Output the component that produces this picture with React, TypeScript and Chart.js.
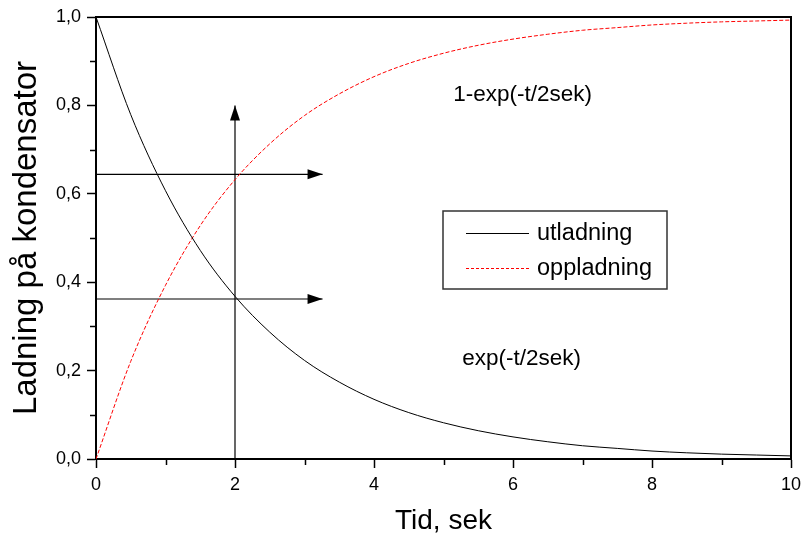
import React, { useEffect, useRef } from 'react';
import { Chart, registerables } from 'chart.js';

Chart.register(...registerables);

// Time axis (seconds) at which the curves were read
const timeValues = [0, 0.5, 1, 1.5, 2, 2.5, 3, 3.5, 4, 4.5, 5, 5.5, 6, 6.5, 7, 7.5, 8, 8.5, 9, 9.5, 10];
// Discharge curve (utladning)
const utladning = [1.0, 0.779, 0.607, 0.472, 0.368, 0.287, 0.223, 0.174, 0.135, 0.105, 0.082, 0.064, 0.05, 0.039, 0.03, 0.024, 0.018, 0.014, 0.011, 0.009, 0.007];
// Charge curve (oppladning)
const oppladning = [0.0, 0.221, 0.393, 0.528, 0.632, 0.713, 0.777, 0.826, 0.865, 0.895, 0.918, 0.936, 0.95, 0.961, 0.97, 0.976, 0.982, 0.986, 0.989, 0.991, 0.993];

const seriesLabels = ['utladning', 'oppladning'];

// Arrows (data coordinates: start -> tip)
const arrowVerticalX = [2, 2];
const arrowVerticalY = [0, 0.8];
const arrowUpperX = [0, 3.26];
const arrowUpperY = [0.644, 0.644];
const arrowLowerX = [0, 3.26];
const arrowLowerY = [0.362, 0.362];

// Annotations
const annotationTexts = ['1-exp(-t/2sek)', 'exp(-t/2sek)'];
const annotationX = [5.14, 5.27];
const annotationY = [0.811, 0.213];

// Ticks
const xTickLabels = ['0', '2', '4', '6', '8', '10'];
const yTickLabels = ['0,0', '0,2', '0,4', '0,6', '0,8', '1,0'];
const xMinorTicks = [1, 3, 5, 7, 9];
const yMinorTicks = [0.1, 0.3, 0.5, 0.7, 0.9];

const FONT = "'Liberation Sans', Arial, sans-serif";

const toPoints = (xs: number[], ys: number[]) => xs.map((x, i) => ({ x, y: ys[i] }));

const overlayPlugin = {
  id: 'overlay',
  afterDatasetsDraw(chart: any) {
    const { ctx, chartArea, scales } = chart;
    const xs = scales.x;
    const ys = scales.y;
    ctx.save();

    // frame top/right
    ctx.strokeStyle = '#000';
    ctx.lineWidth = 2;
    ctx.beginPath();
    ctx.moveTo(chartArea.left, chartArea.top);
    ctx.lineTo(chartArea.right, chartArea.top);
    ctx.lineTo(chartArea.right, chartArea.bottom);
    ctx.stroke();

    // minor ticks
    ctx.lineWidth = 1.5;
    ctx.beginPath();
    xMinorTicks.forEach((v) => {
      const px = Math.round(xs.getPixelForValue(v)) + 0.5;
      ctx.moveTo(px, chartArea.bottom);
      ctx.lineTo(px, chartArea.bottom + 6);
    });
    yMinorTicks.forEach((v) => {
      const py = Math.round(ys.getPixelForValue(v)) + 0.5;
      ctx.moveTo(chartArea.left, py);
      ctx.lineTo(chartArea.left - 6, py);
    });
    ctx.stroke();

    // arrowheads
    const head = (x0: number, y0: number, x1: number, y1: number) => {
      const ax = xs.getPixelForValue(x0);
      const ay = ys.getPixelForValue(y0);
      const bx = xs.getPixelForValue(x1);
      const by = ys.getPixelForValue(y1);
      const ang = Math.atan2(by - ay, bx - ax);
      const L = 15;
      const W = 5;
      ctx.fillStyle = '#000';
      ctx.beginPath();
      ctx.moveTo(bx, by);
      ctx.lineTo(bx - L * Math.cos(ang) + W * Math.sin(ang), by - L * Math.sin(ang) - W * Math.cos(ang));
      ctx.lineTo(bx - L * Math.cos(ang) - W * Math.sin(ang), by - L * Math.sin(ang) + W * Math.cos(ang));
      ctx.closePath();
      ctx.fill();
    };
    head(arrowVerticalX[0], arrowVerticalY[0], arrowVerticalX[1], arrowVerticalY[1]);
    head(arrowUpperX[0], arrowUpperY[0], arrowUpperX[1], arrowUpperY[1]);
    head(arrowLowerX[0], arrowLowerY[0], arrowLowerX[1], arrowLowerY[1]);

    // annotations
    ctx.fillStyle = '#000';
    ctx.font = `22.5px ${FONT}`;
    ctx.textAlign = 'left';
    ctx.textBaseline = 'alphabetic';
    annotationTexts.forEach((t, i) => {
      ctx.fillText(t, xs.getPixelForValue(annotationX[i]), ys.getPixelForValue(annotationY[i]));
    });

    // legend box
    const bx = chartArea.left + 347;
    const by = chartArea.top + 194;
    const bw = 224;
    const bh = 78;
    ctx.strokeStyle = '#333';
    ctx.lineWidth = 1.5;
    ctx.strokeRect(bx, by, bw, bh);
    const rows = [
      { y: by + 22, color: '#000', dash: [] as number[] },
      { y: by + 57, color: '#ff0000', dash: [3, 2] },
    ];
    rows.forEach((r, i) => {
      ctx.strokeStyle = r.color;
      ctx.lineWidth = 1;
      ctx.setLineDash(r.dash);
      ctx.beginPath();
      ctx.moveTo(bx + 23, r.y + 0.5);
      ctx.lineTo(bx + 86, r.y + 0.5);
      ctx.stroke();
      ctx.setLineDash([]);
      ctx.fillStyle = '#000';
      ctx.font = `23.5px ${FONT}`;
      ctx.textBaseline = 'middle';
      ctx.fillText(seriesLabels[i], bx + 94, r.y + 1);
    });

    ctx.restore();
  },
};

export default function App() {
  const canvasRef = useRef<HTMLCanvasElement | null>(null);

  useEffect(() => {
    document.body.style.margin = '0';
    const canvas = canvasRef.current;
    if (!canvas) return;
    const arrowStyle = {
      borderColor: '#000',
      borderWidth: 1.2,
      pointRadius: 0,
      fill: false,
      tension: 0,
    };
    const chart = new Chart(canvas, {
      type: 'line',
      data: {
        datasets: [
          {
            label: seriesLabels[0],
            data: toPoints(timeValues, utladning),
            borderColor: '#000',
            borderWidth: 1,
            pointRadius: 0,
            fill: false,
            cubicInterpolationMode: 'monotone',
          },
          {
            label: seriesLabels[1],
            data: toPoints(timeValues, oppladning),
            borderColor: '#ff0000',
            borderWidth: 1,
            borderDash: [4, 2],
            pointRadius: 0,
            fill: false,
            cubicInterpolationMode: 'monotone',
          },
          { label: 'a1', data: toPoints(arrowVerticalX, arrowVerticalY), ...arrowStyle },
          { label: 'a2', data: toPoints(arrowUpperX, arrowUpperY), ...arrowStyle },
          { label: 'a3', data: toPoints(arrowLowerX, arrowLowerY), ...arrowStyle },
        ],
      },
      options: {
        responsive: false,
        animation: false,
        parsing: false,
        layout: { padding: { top: 17, right: 10, left: 0, bottom: 0 } },
        plugins: {
          legend: { display: false },
          tooltip: { enabled: false },
        },
        scales: {
          x: {
            type: 'linear',
            min: 0,
            max: 10,
            ticks: {
              stepSize: 2,
              color: '#000',
              font: { family: FONT, size: 18 },
              padding: 6,
              maxRotation: 0,
              callback: (v: any) => xTickLabels[Math.round(Number(v) / 2)] ?? '',
            },
            grid: {
              drawOnChartArea: false,
              drawTicks: true,
              tickLength: 9,
              tickColor: '#000',
              tickWidth: 1.5,
            },
            border: { color: '#000', width: 2 },
            title: {
              display: true,
              text: 'Tid, sek',
              color: '#000',
              font: { family: FONT, size: 28 },
              padding: { top: 0, bottom: 0 },
            },
            afterFit: (s: any) => {
              s.height = 79;
              s.paddingLeft = 0;
              s.paddingRight = 0;
            },
          },
          y: {
            type: 'linear',
            min: 0,
            max: 1,
            ticks: {
              stepSize: 0.2,
              color: '#000',
              font: { family: FONT, size: 18 },
              padding: 6,
              callback: (v: any) => yTickLabels[Math.round(Number(v) / 0.2)] ?? '',
            },
            grid: {
              drawOnChartArea: false,
              drawTicks: true,
              tickLength: 9,
              tickColor: '#000',
              tickWidth: 1.5,
            },
            border: { color: '#000', width: 2 },
            title: {
              display: true,
              text: 'Ladning på kondensator',
              color: '#000',
              font: { family: FONT, size: 33 },
              padding: { top: 7, bottom: 0 },
            },
            afterFit: (s: any) => {
              s.width = 96;
              s.paddingTop = 0;
              s.paddingBottom = 0;
            },
          },
        },
      },
      plugins: [overlayPlugin],
    } as any);
    return () => chart.destroy();
  }, []);

  return (
    <div style={{ width: 801, height: 538 }}>
      <canvas ref={canvasRef} width={801} height={538} style={{ display: 'block' }} />
    </div>
  );
}
